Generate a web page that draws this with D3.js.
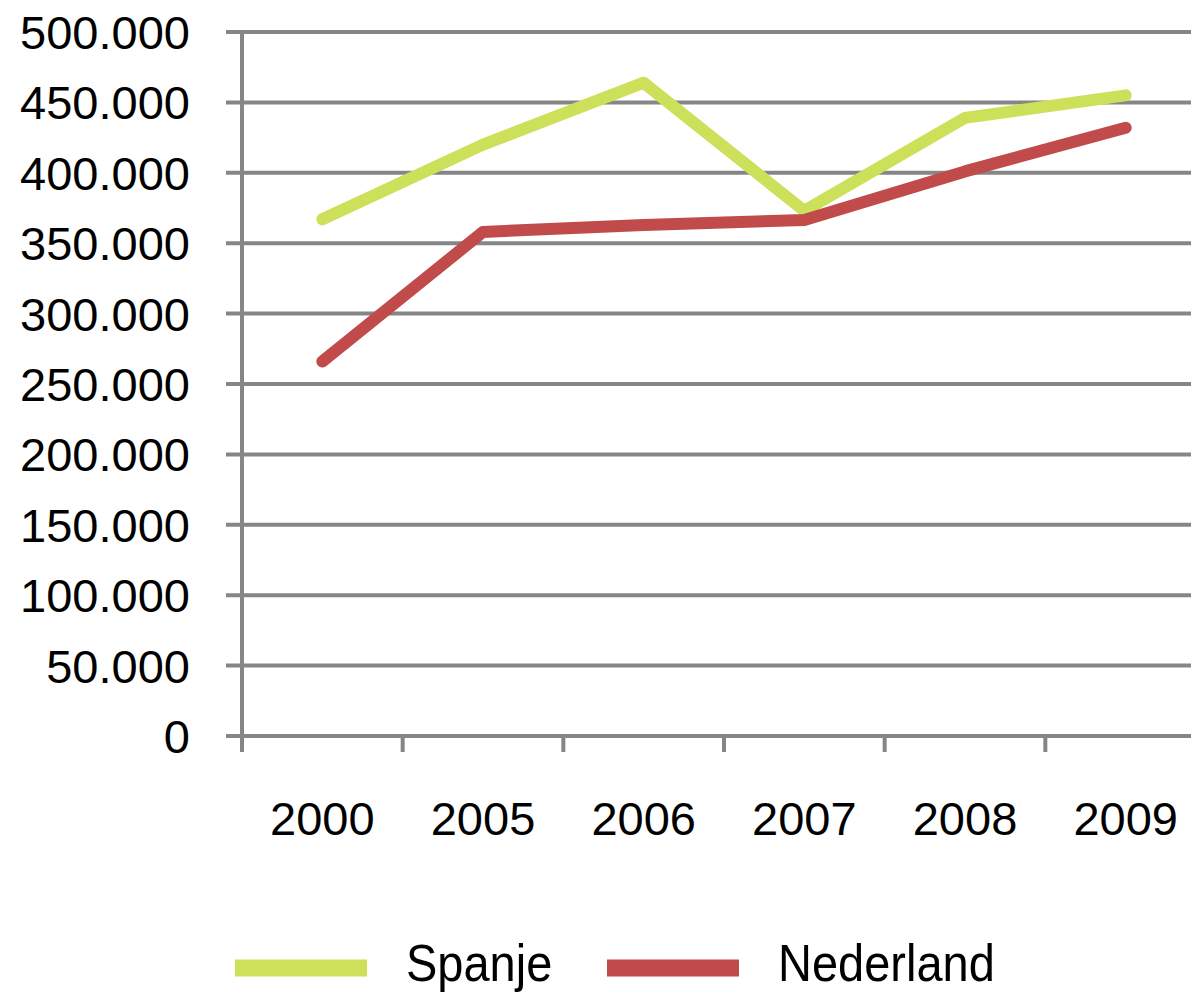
<!DOCTYPE html>
<html>
<head>
<meta charset="utf-8">
<script src="https://cdn.jsdelivr.net/npm/d3@7"></script>
<style>
  body { margin: 0; background: #fff; }
  text { font-family: "Liberation Sans", Arial, sans-serif; fill: #000; }
</style>
</head>
<body>
<div id="chart"></div>
<script>
// data
const years = ["2000", "2005", "2006", "2007", "2008", "2009"];
const spanje = [367000, 420000, 464000, 373000, 439000, 455000];
const nederland = [266000, 358000, 363000, 366500, 401000, 432000];
const yTicks = [0, 50000, 100000, 150000, 200000, 250000, 300000, 350000, 400000, 450000, 500000];
const seriesNames = ["Spanje", "Nederland"];
const seriesColors = ["#cde05a", "#c04b4a"];

const width = 1191;
const height = 992;
const margin = { top: 32, left: 242, bottom: 256 };
const plotRight = 1206; // plot runs a bit past the picture's right edge

const nl = d3.formatLocale({ decimal: ",", thousands: ".", grouping: [3] });
const format = nl.format(",d");

const svg = d3
  .select("#chart")
  .append("svg")
  .attr("width", width)
  .attr("height", height);

const x = d3.scaleBand().domain(years).range([margin.left, plotRight]);
const y = d3
  .scaleLinear()
  .domain([0, 500000])
  .range([height - margin.bottom, margin.top]);

const gridColor = "#868686";

// gridlines (with the little tick stubs left of the axis)
svg
  .append("g")
  .selectAll("line")
  .data(yTicks)
  .enter()
  .append("line")
  .attr("x1", margin.left - 16)
  .attr("x2", plotRight)
  .attr("y1", d => y(d))
  .attr("y2", d => y(d))
  .attr("stroke", gridColor)
  .attr("stroke-width", 4);

// y axis line
svg
  .append("line")
  .attr("x1", margin.left)
  .attr("x2", margin.left)
  .attr("y1", y(500000) - 2)
  .attr("y2", y(0) + 16)
  .attr("stroke", gridColor)
  .attr("stroke-width", 4);

// x ticks at the band edges
svg
  .append("g")
  .selectAll("line")
  .data(years.slice(1))
  .enter()
  .append("line")
  .attr("x1", d => x(d))
  .attr("x2", d => x(d))
  .attr("y1", y(0))
  .attr("y2", y(0) + 16)
  .attr("stroke", gridColor)
  .attr("stroke-width", 4);

// y tick labels
svg
  .append("g")
  .selectAll("text")
  .data(yTicks)
  .enter()
  .append("text")
  .attr("text-anchor", "end")
  .attr("font-size", 47)
  .attr("x", 190)
  .attr("y", d => y(d) + 17)
  .text(d => format(d));

// x tick labels
svg
  .append("g")
  .selectAll("text")
  .data(years)
  .enter()
  .append("text")
  .attr("text-anchor", "middle")
  .attr("font-size", 47)
  .attr("x", d => x(d) + x.bandwidth() / 2)
  .attr("y", 835)
  .text(d => d);

// lines
const line = d3
  .line()
  .x((d, i) => x(years[i]) + x.bandwidth() / 2)
  .y(d => y(d));

[spanje, nederland].forEach((values, k) => {
  svg
    .append("path")
    .datum(values)
    .attr("d", line)
    .attr("fill", "none")
    .attr("stroke", seriesColors[k])
    .attr("stroke-width", 12)
    .attr("stroke-linejoin", "round")
    .attr("stroke-linecap", "round");
});

// legend
const legend = svg
  .append("g")
  .selectAll("g")
  .data(seriesNames)
  .enter()
  .append("g")
  .attr("transform", (d, i) => `translate(${235 + i * 372}, 968)`);

legend
  .append("line")
  .attr("x1", 0)
  .attr("x2", 132)
  .attr("stroke", (d, i) => seriesColors[i])
  .attr("stroke-width", 17);

legend
  .append("text")
  .attr("font-size", 47)
  .attr("transform", "translate(171, 13) scale(1, 1.12)")
  .text(d => d);
</script>
</body>
</html>
